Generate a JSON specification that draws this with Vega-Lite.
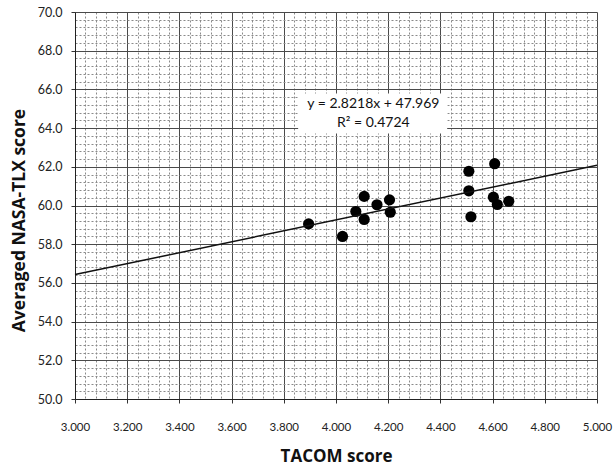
{
  "$schema": "https://vega.github.io/schema/vega-lite/v6.json",
  "autosize": {"type": "none"},
  "padding": {"left": 75, "top": 12, "right": 16, "bottom": 71},
  "width": 522,
  "height": 387,
  "background": "white",
  "view": {"stroke": null},
  "config": {"font": "Lato"},
  "datasets": {
    "points": [
      {"tacom": 3.895, "tlx": 59.05},
      {"tacom": 4.025, "tlx": 58.40},
      {"tacom": 4.076, "tlx": 59.69},
      {"tacom": 4.108, "tlx": 60.47},
      {"tacom": 4.108, "tlx": 59.28},
      {"tacom": 4.157, "tlx": 60.04},
      {"tacom": 4.205, "tlx": 60.29},
      {"tacom": 4.208, "tlx": 59.65},
      {"tacom": 4.509, "tlx": 61.77},
      {"tacom": 4.509, "tlx": 60.76},
      {"tacom": 4.517, "tlx": 59.42},
      {"tacom": 4.608, "tlx": 62.16},
      {"tacom": 4.603, "tlx": 60.43},
      {"tacom": 4.618, "tlx": 60.05},
      {"tacom": 4.662, "tlx": 60.22}
    ],
    "trend": [
      {"tacom": 3.0, "tlx": 56.43},
      {"tacom": 5.0, "tlx": 62.08}
    ],
    "notebox": [
      {"tacom": 3.855, "tacom2": 4.426, "tlx": 63.72, "tlx2": 65.79}
    ],
    "notetext": [
      {"tacom": 4.143, "tlx": 65.22, "label": "y = 2.8218x + 47.969"},
      {"tacom": 4.143, "tlx": 64.24, "label": "R² = 0.4724"}
    ]
  },
  "layer": [
    {
      "data": {"name": "points"},
      "mark": {"type": "circle", "size": 125, "color": "#000000", "opacity": 1},
      "encoding": {
        "x": {
          "field": "tacom", "type": "quantitative",
          "scale": {"domain": [3, 5], "nice": false, "zero": false},
          "title": "TACOM score",
          "axis": {
            "values": [3,3.04,3.08,3.12,3.16,3.2,3.24,3.28,3.32,3.36,3.4,3.44,3.48,3.52,3.56,3.6,3.64,3.68,3.72,3.76,3.8,3.84,3.88,3.92,3.96,4,4.04,4.08,4.12,4.16,4.2,4.24,4.28,4.32,4.36,4.4,4.44,4.48,4.52,4.56,4.6,4.64,4.68,4.72,4.76,4.8,4.84,4.88,4.92,4.96,5],
            "tickCount": 200,
            "labelExpr": "abs(datum.value*5 - round(datum.value*5)) < 0.001 ? format(datum.value, '.3f') : ''",
            "labelOverlap": false,
            "labelBound": false,
            "labelFlush": false,
            "labelFont": "Lato",
            "labelFontSize": 11.5,
            "labelColor": "#222222",
            "labelPadding": 18,
            "tickSize": 4,
            "tickColor": {"condition": {"test": "abs(datum.value*5 - round(datum.value*5)) < 0.001", "value": "#333333"}, "value": "transparent"},
            "domainColor": "#222222",
            "grid": true,
            "gridColor": {"condition": {"test": "abs(datum.value*5 - round(datum.value*5)) < 0.001", "value": "#4a4a4a"}, "value": "#8a8a8a"},
            "gridDash": {"condition": {"test": "abs(datum.value*5 - round(datum.value*5)) < 0.001", "value": []}, "value": [2, 2]},
            "gridWidth": 1,
            "titleFont": "Open Sans",
            "titleFontSize": 17,
            "titleFontWeight": "bold",
            "titleColor": "#111111",
            "titlePadding": 16
          }
        },
        "y": {
          "field": "tlx", "type": "quantitative",
          "scale": {"domain": [50, 70], "nice": false, "zero": false},
          "title": "Averaged NASA-TLX score",
          "axis": {
            "values": [50,50.4,50.8,51.2,51.6,52,52.4,52.8,53.2,53.6,54,54.4,54.8,55.2,55.6,56,56.4,56.8,57.2,57.6,58,58.4,58.8,59.2,59.6,60,60.4,60.8,61.2,61.6,62,62.4,62.8,63.2,63.6,64,64.4,64.8,65.2,65.6,66,66.4,66.8,67.2,67.6,68,68.4,68.8,69.2,69.6,70],
            "tickCount": 200,
            "labelExpr": "abs(datum.value/2 - round(datum.value/2)) < 0.001 ? format(datum.value, '.1f') : ''",
            "labelOverlap": false,
            "labelBound": false,
            "labelFlush": false,
            "labelFont": "Lato",
            "labelFontSize": 12.5,
            "labelColor": "#222222",
            "labelPadding": 9,
            "tickSize": 4,
            "tickColor": {"condition": {"test": "abs(datum.value/2 - round(datum.value/2)) < 0.001", "value": "#333333"}, "value": "transparent"},
            "domainColor": "#222222",
            "grid": true,
            "gridColor": {"condition": {"test": "abs(datum.value/2 - round(datum.value/2)) < 0.001", "value": "#4a4a4a"}, "value": "#8a8a8a"},
            "gridDash": {"condition": {"test": "abs(datum.value/2 - round(datum.value/2)) < 0.001", "value": []}, "value": [2, 2]},
            "gridWidth": 1,
            "titleFont": "Open Sans",
            "titleFontSize": 17.5,
            "titleFontWeight": "bold",
            "titleColor": "#111111",
            "titlePadding": 9,
            "titleY": 208
          }
        }
      }
    },
    {
      "data": {"name": "trend"},
      "mark": {"type": "line", "color": "#111111", "strokeWidth": 1.5},
      "encoding": {
        "x": {"field": "tacom", "type": "quantitative", "title": "TACOM score"},
        "y": {"field": "tlx", "type": "quantitative", "title": "Averaged NASA-TLX score"}
      }
    },
    {
      "data": {"name": "notebox"},
      "mark": {"type": "rect", "color": "white", "opacity": 1},
      "encoding": {
        "x": {"field": "tacom", "type": "quantitative", "title": "TACOM score"},
        "x2": {"field": "tacom2"},
        "y": {"field": "tlx", "type": "quantitative", "title": "Averaged NASA-TLX score"},
        "y2": {"field": "tlx2"}
      }
    },
    {
      "data": {"name": "notetext"},
      "mark": {"type": "text", "font": "Lato", "fontSize": 14, "color": "#111111", "align": "center", "baseline": "middle"},
      "encoding": {
        "x": {"field": "tacom", "type": "quantitative", "title": "TACOM score"},
        "y": {"field": "tlx", "type": "quantitative", "title": "Averaged NASA-TLX score"},
        "text": {"field": "label"}
      }
    }
  ]
}
